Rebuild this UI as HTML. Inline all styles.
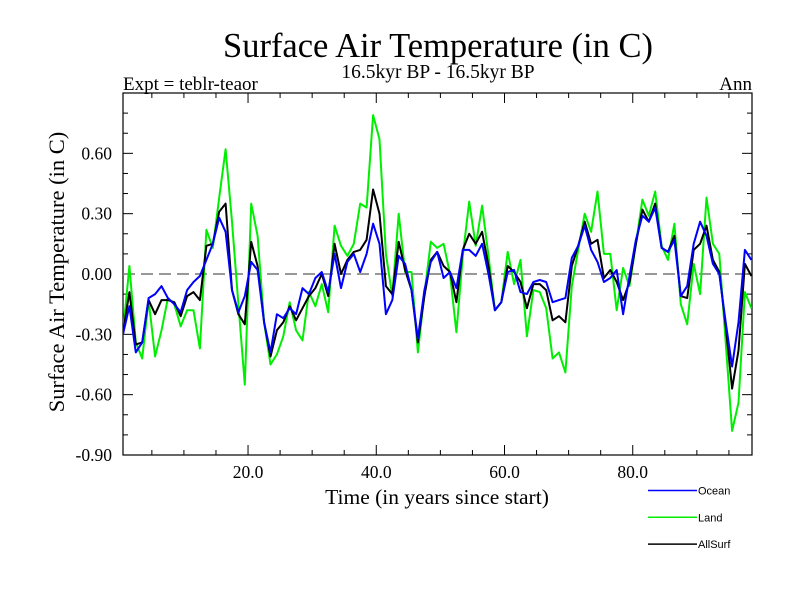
<!DOCTYPE html>
<html><head><meta charset="utf-8"><style>
body{margin:0;background:#fff}
svg{display:block}
text{font-family:"Liberation Serif",serif;fill:#000}
.sans{font-family:"Liberation Sans",sans-serif}
</style></head><body>
<svg id="chart" width="800" height="600" viewBox="0 0 800 600">
<text x="438" y="57" font-size="34.5" text-anchor="middle">Surface Air Temperature (in C)</text>
<text x="438" y="78" font-size="19.5" text-anchor="middle">16.5kyr BP - 16.5kyr BP</text>
<text x="123" y="90" font-size="19">Expt = teblr-teaor</text>
<text x="752" y="90" font-size="19" text-anchor="end">Ann</text>
<text transform="translate(64,272) rotate(-90)" font-size="22.5" text-anchor="middle">Surface Air Temperature (in C)</text>
<text x="437" y="504" font-size="21.5" text-anchor="middle">Time (in years since start)</text>
<g id="axes"></g>
<g id="series"></g>
<g id="legend"></g>
</svg>
<script>
const years = [];
for (let i = 1; i <= 99; i++) years.push(i - 0.5);
const ocean = [-0.3,-0.16,-0.39,-0.34,-0.12,-0.1,-0.06,-0.12,-0.15,-0.19,-0.08,-0.04,-0.01,0.07,0.15,0.28,0.21,-0.08,-0.19,-0.11,0.06,0.02,-0.24,-0.39,-0.2,
-0.22,-0.17,-0.2,-0.07,-0.1,-0.02,0.01,-0.09,0.1,-0.07,0.06,0.1,0.01,0.1,0.25,0.15,-0.2,-0.13,0.09,0.05,-0.08,-0.32,-0.08,0.06,0.11,
-0.02,0.01,-0.07,0.12,0.12,0.09,0.15,0.0,-0.18,-0.14,0.01,0.02,-0.09,-0.1,-0.04,-0.03,-0.04,-0.14,-0.13,-0.12,0.08,0.14,0.24,0.12,0.06,
-0.04,-0.02,0.02,-0.2,-0.01,0.17,0.29,0.26,0.33,0.13,0.11,0.17,-0.11,-0.06,0.15,0.26,0.19,0.05,0.0,-0.24,-0.46,-0.24,0.12,0.07];
const land = [-0.29,0.04,-0.34,-0.42,-0.13,-0.41,-0.28,-0.12,-0.15,-0.26,-0.18,-0.18,-0.37,0.22,0.13,0.38,0.62,0.26,-0.15,-0.55,0.35,0.19,-0.24,-0.45,-0.4,
-0.31,-0.14,-0.28,-0.33,-0.09,-0.16,-0.05,-0.19,0.24,0.14,0.09,0.15,0.35,0.33,0.79,0.67,0.1,-0.11,0.3,0.01,0.01,-0.39,-0.1,0.16,0.13,
0.15,0.0,-0.29,0.09,0.36,0.14,0.34,0.09,-0.18,-0.14,0.11,-0.05,0.07,-0.31,-0.08,-0.09,-0.17,-0.42,-0.39,-0.49,-0.06,0.12,0.3,0.21,0.41,
0.1,0.1,-0.18,0.03,-0.06,0.15,0.37,0.29,0.41,0.14,0.07,0.25,-0.15,-0.25,0.05,-0.1,0.38,0.15,0.1,-0.34,-0.78,-0.64,-0.09,-0.17];
const allsurf = [-0.29,-0.09,-0.35,-0.34,-0.13,-0.2,-0.13,-0.13,-0.14,-0.21,-0.11,-0.09,-0.13,0.14,0.15,0.31,0.35,-0.08,-0.2,-0.25,0.16,0.04,-0.24,-0.41,-0.28,
-0.24,-0.16,-0.23,-0.17,-0.11,-0.07,0.0,-0.11,0.15,0.0,0.07,0.11,0.12,0.17,0.42,0.3,-0.06,-0.1,0.16,0.02,-0.08,-0.34,-0.11,0.07,0.11,
0.04,0.01,-0.14,0.12,0.2,0.15,0.21,0.04,-0.18,-0.14,0.04,0.01,-0.04,-0.17,-0.05,-0.05,-0.08,-0.23,-0.21,-0.24,0.04,0.14,0.26,0.15,0.17,
-0.02,0.02,-0.04,-0.13,-0.04,0.15,0.32,0.26,0.35,0.13,0.11,0.19,-0.11,-0.12,0.12,0.15,0.24,0.07,0.01,-0.26,-0.57,-0.38,0.05,-0.01];
const yTicks = [0.6,0.3,0.0,-0.3,-0.6,-0.9];
const yTickLabels = ["0.60","0.30","0.00","-0.30","-0.60","-0.90"];
const xTicks = [20,40,60,80];
const xTickLabels = ["20.0","40.0","60.0","80.0"];
const legendNames = ["Ocean","Land","AllSurf"];
const legendColors = ["#0000ff","#00ee00","#000000"];

const L=123,R=752,T=93,B=455, X0=0.5,X1=98.6, Y0=-0.9,Y1=0.9;
const sx=v=>L+(v-X0)/(X1-X0)*(R-L);
const sy=v=>B-(v-Y0)/(Y1-Y0)*(B-T);
const NS="http://www.w3.org/2000/svg";
function mk(tag,attrs,parent){const e=document.createElementNS(NS,tag);for(const k in attrs)e.setAttribute(k,attrs[k]);parent.appendChild(e);return e;}
const axes=document.getElementById('axes');
const f=mk('rect',{x:L,y:T,width:R-L,height:B-T,fill:'none',stroke:'#000','stroke-width':1.2},axes);


for(let v=5;v<=95;v+=5){
  const big=v%20===0, len=big?10:5, x=sx(v);
  const t1=mk('line',{x1:x,y1:B,x2:x,y2:B-len,stroke:'#000'},axes);
  
  
  const t2=mk('line',{x1:x,y1:T,x2:x,y2:T+len,stroke:'#000'},axes);
  
  
}
xTicks.forEach((v,i)=>{
  const t=mk('text',{x:sx(v),y:B+23,'font-size':17.5,'text-anchor':'middle'},axes);
  t.textContent=xTickLabels[i];
  
  
});
for(let k=-9;k<=9;k++){
  const v=k/10, big=(k%3===0), len=big?10:5, y=sy(v);
  const a=mk('line',{x1:L,y1:y,x2:L+len,y2:y,stroke:'#000'},axes);
  
  
  const b=mk('line',{x1:R,y1:y,x2:R-len,y2:y,stroke:'#000'},axes);
  
  
}
yTicks.forEach((v,i)=>{
  const t=mk('text',{x:112,y:sy(v)+6,'font-size':17.5,'text-anchor':'end'},axes);
  t.textContent=yTickLabels[i];
  
  
});
const z=mk('line',{x1:L,y1:sy(0),x2:R,y2:sy(0),stroke:'#777','stroke-width':1.5,'stroke-dasharray':'12,6'},axes);


const ser=document.getElementById('series');
const clip=mk('clipPath',{id:'pc'},ser);
mk('rect',{x:L,y:T,width:R-L,height:B-T},clip);
function line(vals,color,name){
  const d=vals.map((v,i)=>(i?'L':'M')+sx(years[i]).toFixed(1)+','+sy(v).toFixed(1)).join('');
  const p=mk('path',{d:d,fill:'none',stroke:color,'stroke-width':2,'clip-path':'url(#pc)','stroke-linejoin':'round'},ser);
  
  
}
line(land,legendColors[1],'land-line');
line(allsurf,legendColors[2],'allsurf-line');
line(ocean,legendColors[0],'ocean-line');
const lg=document.getElementById('legend');
legendNames.forEach((n,i)=>{
  const y=490.5+i*26.8;
  const l=mk('line',{x1:648,y1:y,x2:697,y2:y,stroke:legendColors[i],'stroke-width':1.5},lg);
  
  
  const t=mk('text',{x:698,y:y+4,'font-size':11,class:'sans'},lg);
  t.textContent=n;
  
  
});
</script>
</body></html>
